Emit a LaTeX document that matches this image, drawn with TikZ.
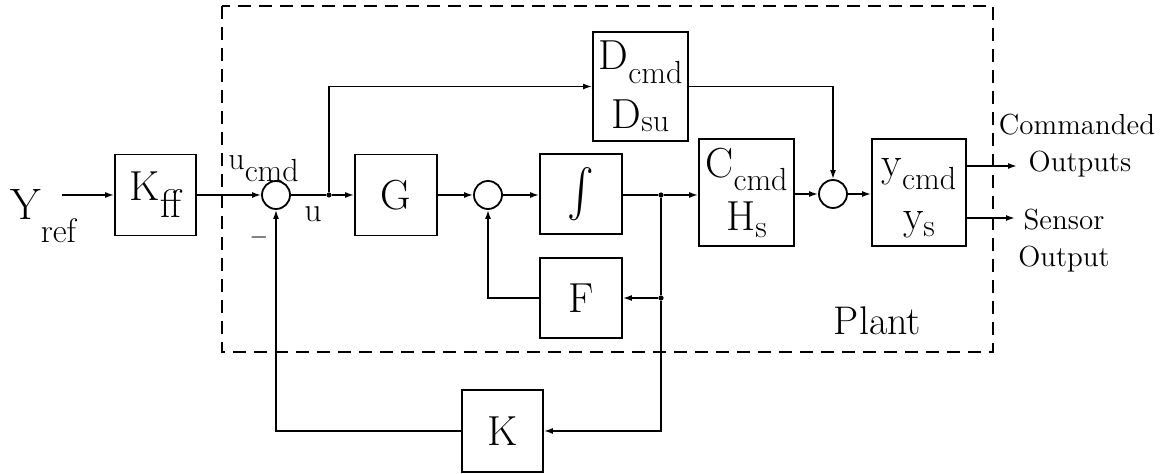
\documentclass[tikz,border=0pt]{standalone}
\usepackage{fontspec}
\usetikzlibrary{arrows.meta}
\newcommand\lowsub[3]{\raisebox{-#1}{\fontsize{#2}{#2}\selectfont #3}}
\begin{document}
\begin{tikzpicture}[x=0.5pt,y=-0.5pt,
  blk/.style={draw, line width=0.9pt, inner sep=0pt, font=\fontsize{21}{26}\selectfont, align=center},
  sumc/.style={draw, circle, line width=0.9pt, minimum size=14pt, inner sep=0pt},
  con/.style={line width=0.8pt, -{Latex[length=4.5pt,width=3pt]}},
  ln/.style={line width=0.8pt},
  dot/.style={circle, fill, inner sep=0pt, minimum size=2.6pt},
  lbl/.style={inner sep=0pt},
  plantbox/.style={line width=0.9pt, dash pattern=on 6.5pt off 4pt}
]
\useasboundingbox (0,0) rectangle (1172,474);
\draw[plantbox] (222,6) rectangle (993,352);

% nodes
\node[lbl, anchor=base west] (yref) at (10,220) {\fontsize{22}{22}\selectfont Y\lowsub{11.5pt}{17}{ref}};
\coordinate (yin) at (62,195);
\node[blk, minimum width=40.5pt, minimum height=40.5pt] (kff) at (155.5,195) {K\lowsub{8.5pt}{20}{ff}};
\node[sumc] (s1) at (276,195) {};
\node[dot] (b1) at (329,195) {};
\node[blk, minimum width=41pt, minimum height=40.5pt] (g) at (396,195) {G};
\node[sumc] (s2) at (488,195) {};
\node[blk, minimum width=41pt, minimum height=40pt] (int) at (581,194) {\scalebox{2}[2.4]{$\int$}};
\node[dot] (b2) at (661,195) {};
\node[blk, minimum width=41pt, minimum height=40pt] (f) at (581,298) {F};
\node[dot] (b3) at (661,298) {};
\node[blk, minimum width=40.5pt, minimum height=41pt] (k) at (502.5,431) {K};
\node[blk, minimum width=47.5pt, minimum height=54.5pt, font=\fontsize{21}{29.5}\selectfont] (d) at (640.5,86.5) {D\lowsub{7pt}{16}{cmd}\\D\lowsub{1.5pt}{16}{su}};
\node[blk, minimum width=47.5pt, minimum height=53.5pt, font=\fontsize{21}{26.5}\selectfont] (c) at (746.5,192.5) {C\lowsub{6.5pt}{16}{cmd}\\H\lowsub{3.5pt}{16}{s}};
\node[sumc] (s3) at (833,194) {};
\node[blk, minimum width=47pt, minimum height=53.5pt, font=\fontsize{21}{26.5}\selectfont] (yb) at (919,192.5) {\vphantom{C}y\lowsub{6.5pt}{16}{cmd}\\y\lowsub{3.5pt}{16}{s}};
\coordinate (o1) at (1017,166);
\coordinate (o2) at (1015,218);

% labels
\node[lbl, anchor=base west] (ucmd) at (228,170) {\fontsize{16}{16}\selectfont u\lowsub{6pt}{16}{cmd}};
\node[lbl, anchor=base] (ulbl) at (313,222) {\fontsize{17}{17}\selectfont u};
\node[lbl] (minus) at (259,238) {\scalebox{1.2}{$-$}};
\node[lbl, anchor=base] (t1) at (1077,135) {\fontsize{14.5}{14.5}\selectfont Commanded};
\node[lbl, anchor=base] (t2) at (1080,172) {\fontsize{14.5}{14.5}\selectfont Outputs};
\node[lbl, anchor=base] (t3) at (1064,230) {\fontsize{14.5}{14.5}\selectfont Sensor};
\node[lbl, anchor=base] (t4) at (1064,267) {\fontsize{14.5}{14.5}\selectfont Output};
\node[lbl, anchor=base] (plant) at (877.5,335) {\fontsize{20}{20}\selectfont Plant};

% connectors
\draw[con] (yin) -- (yin -| kff.west);
\draw[con] (kff) -- (s1);
\draw[ln] (s1) -- (b1);
\draw[con] (b1) -- (g);
\draw[con] (g) -- (s2);
\draw[con] (s2) -- (s2 -| int.west);
\draw[ln] (int.east |- b2) -- (b2);
\draw[con] (b2) -- (b2 -| c.west);
\draw[ln] (b2) -- (b3);
\draw[con] (b3) -- (b3 -| f.east);
\draw[con] (f.west) -| (s2.south);
\draw[con] (b3) |- (k.east);
\draw[con] (k.west) -| (s1.south);
\draw[con] (b1) |- (d.west);
\draw[con] (d.east) -| (s3.north);
\draw[con] (c.east |- s3) -- (s3.west);
\draw[con] (s3) -- (s3 -| yb.west);
\draw[con] (yb.east |- o1) -- (o1);
\draw[con] (yb.east |- o2) -- (o2);
\end{tikzpicture}
\end{document}
